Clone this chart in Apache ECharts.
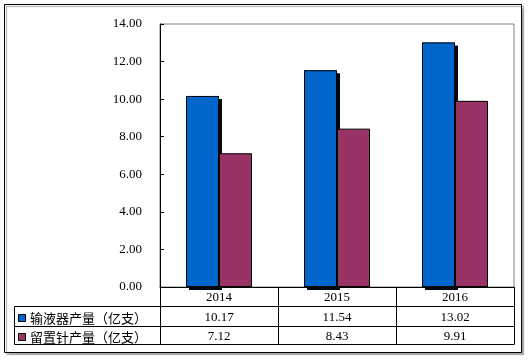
<!DOCTYPE html>
<html>
<head>
<meta charset="utf-8">
<script src="https://cdn.jsdelivr.net/npm/echarts@6/dist/echarts.min.js"></script>
<style>html,body{margin:0;padding:0;background:#fff;}#c{width:529px;height:360px;}</style>
</head>
<body>
<div id="c"></div>
<script>
var categories = ['2014', '2015', '2016'];
var seriesNames = ['输液器产量（亿支）', '留置针产量（亿支）'];
var infusionSets = [10.17, 11.54, 13.02];
var indwellingNeedles = [7.12, 8.43, 9.91];
var yTicks = { min: 0, max: 14, interval: 2 };

var FONT = "'Liberation Serif', 'Noto Sans CJK SC', serif";
var CJK = "'Noto Sans CJK SC', sans-serif";
var colors = ['#0066CC', '#993366'];

var chart = echarts.init(document.getElementById('c'), null, { renderer: 'canvas' });

function valueAxis(vals, margin) {
  return {
    type: 'category', data: categories, position: 'bottom', gridIndex: 0,
    axisLine: { show: false }, axisTick: { show: false },
    axisLabel: {
      interval: 0, margin: margin, verticalAlign: 'middle',
      fontFamily: FONT, fontSize: 13, color: '#000',
      formatter: function (v, i) { return vals[i].toFixed(2); }
    }
  };
}

var option = {
  backgroundColor: '#fff',
  animation: false,
  grid: { left: 160, right: 15, top: 24, bottom: 73, show: true, borderColor: '#808080', borderWidth: 1, backgroundColor: 'transparent' },
  xAxis: [
    {
      type: 'category', data: categories,
      axisLine: { show: true, lineStyle: { color: '#000', width: 1 } },
      axisTick: { show: true, interval: 0, length: 57, lineStyle: { color: '#000' } },
      axisLabel: { interval: 0, margin: 11, verticalAlign: 'middle', fontFamily: FONT, fontSize: 13, color: '#000' }
    },
    valueAxis(infusionSets, 31),
    valueAxis(indwellingNeedles, 50)
  ],
  yAxis: {
    type: 'value', min: yTicks.min, max: yTicks.max, interval: yTicks.interval,
    axisLine: { show: true, lineStyle: { color: '#000', width: 1 } },
    axisTick: { show: true, inside: true, length: 4, lineStyle: { color: '#000' } },
    splitLine: { show: false },
    axisLabel: { margin: 18, fontFamily: FONT, fontSize: 13, color: '#000', formatter: function (v) { return v.toFixed(2); } }
  },
  series: [
    // shadow layer (same slots, on a twin category axis)
    {
      name: 'shadow', type: 'bar', xAxisIndex: 1, data: infusionSets, barWidth: 33, barGap: '0%', z: 1,
      silent: true,
      itemStyle: { color: colors[0], borderWidth: 0,
        shadowColor: '#000814', shadowBlur: 0, shadowOffsetX: 3, shadowOffsetY: 3 }
    },
    {
      name: 'shadow2', type: 'bar', xAxisIndex: 1, data: indwellingNeedles, barWidth: 33, barGap: '0%', z: 1,
      silent: true,
      itemStyle: { color: 'rgba(0,0,0,0)', borderWidth: 0 }
    },
    {
      name: seriesNames[0], type: 'bar', data: infusionSets, barWidth: 33, barGap: '0%', z: 2,
      itemStyle: { color: colors[0], borderColor: '#000', borderWidth: 1 }
    },
    {
      name: seriesNames[1], type: 'bar', data: indwellingNeedles, barWidth: 33, barGap: '0%', z: 2,
      itemStyle: { color: colors[1], borderColor: '#000', borderWidth: 1 }
    }
  ],
  graphic: [
    { type: 'rect', z: -10, shape: { x: 4.5, y: 4.5, width: 517, height: 348 },
      style: { fill: '#fff', stroke: '#000', lineWidth: 1, shadowColor: '#aaa', shadowOffsetX: 2, shadowOffsetY: 2, shadowBlur: 1 } },
    { type: 'line', z: 10, shape: { x1: 14.5, y1: 306.5, x2: 514.5, y2: 306.5 }, style: { stroke: '#000', lineWidth: 1 } },
    { type: 'line', z: 10, shape: { x1: 14.5, y1: 326.5, x2: 514.5, y2: 326.5 }, style: { stroke: '#000', lineWidth: 1 } },
    { type: 'line', z: 10, shape: { x1: 14.5, y1: 344.5, x2: 514.5, y2: 344.5 }, style: { stroke: '#000', lineWidth: 1 } },
    { type: 'line', z: 10, shape: { x1: 14.5, y1: 306.5, x2: 14.5, y2: 344.5 }, style: { stroke: '#000', lineWidth: 1 } },
    { type: 'rect', z: 10, shape: { x: 18.5, y: 314.5, width: 7, height: 7 }, style: { fill: colors[0], stroke: '#000', lineWidth: 1 } },
    { type: 'rect', z: 10, shape: { x: 18.5, y: 333.5, width: 7, height: 7 }, style: { fill: colors[1], stroke: '#000', lineWidth: 1 } },
    { type: 'text', z: 10, x: 30, y: 318, style: { text: seriesNames[0], font: '13px ' + CJK, fill: '#000', verticalAlign: 'middle' } },
    { type: 'text', z: 10, x: 30, y: 337, style: { text: seriesNames[1], font: '13px ' + CJK, fill: '#000', verticalAlign: 'middle' } }
  ]
};
chart.setOption(option);
</script>
</body>
</html>
